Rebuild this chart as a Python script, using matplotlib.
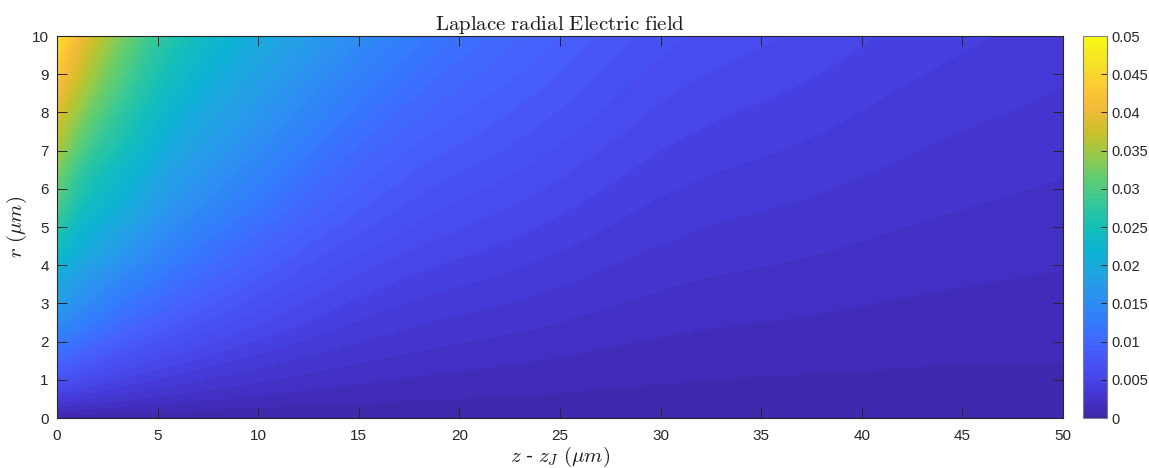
import numpy as np
import matplotlib
matplotlib.use("Agg")
import matplotlib.pyplot as plt
import matplotlib.tri as mtri
from matplotlib.colors import LinearSegmentedColormap, Normalize
from matplotlib.cm import ScalarMappable

# parula-like colour table (every 16th entry)
parula_pts = [
    (0.2422, 0.1504, 0.6603), (0.2704, 0.2138, 0.8346), (0.2813, 0.2985, 0.9397),
    (0.2710, 0.3860, 0.9898), (0.2006, 0.4803, 0.9906), (0.1716, 0.5655, 0.9393),
    (0.1288, 0.6408, 0.8910), (0.0433, 0.7039, 0.8242), (0.0770, 0.7468, 0.7224),
    (0.2061, 0.7808, 0.6065), (0.3671, 0.8021, 0.4563), (0.5886, 0.7913, 0.2833),
    (0.7945, 0.7554, 0.1570), (0.9523, 0.7284, 0.2237), (0.9938, 0.7974, 0.1974),
    (0.9601, 0.8963, 0.1507), (0.9769, 0.9839, 0.0805),
]
parula = LinearSegmentedColormap.from_list("parula", parula_pts, N=256)

# sample positions (um)
z_pts = [0, 1, 2.5, 5, 7.5, 10, 15, 20, 25, 30, 35, 40, 45, 50]
r_pts = [0, 0.5, 1, 2, 3, 4, 5, 6, 7, 8, 9, 10]

# radial field, one list per z position, in units of 1e-3 (r = 0 ... 10)
E_z0 = [0, 3.8, 7.0, 12.5, 17.5, 22.0, 27.0, 31.5, 35.5, 39.0, 42.5, 47.0]
E_z1 = [0, 3.4, 6.2, 11.2, 15.6, 19.6, 23.4, 27.2, 30.8, 34.4, 38.0, 41.5]
E_z2p5 = [0, 2.9, 5.2, 9.4, 13.2, 16.8, 20.2, 23.4, 26.5, 29.5, 32.4, 35.2]
E_z5 = [0, 2.2, 4.0, 7.3, 10.4, 13.3, 16.0, 18.6, 21.0, 23.4, 25.8, 28.0]
E_z7p5 = [0, 1.75, 3.2, 5.9, 8.4, 10.8, 13.1, 15.3, 17.4, 19.4, 21.4, 23.4]
E_z10 = [0, 1.4, 2.6, 4.8, 6.9, 8.9, 10.9, 12.9, 14.8, 16.6, 18.4, 20.2]
E_z15 = [0, 1.0, 1.8, 3.3, 4.7, 6.1, 7.6, 9.0, 10.4, 11.9, 13.4, 14.9]
E_z20 = [0, 0.8, 1.4, 2.5, 3.6, 4.7, 5.8, 6.9, 8.0, 9.1, 10.2, 11.3]
E_z25 = [0, 0.65, 1.12, 2.0, 2.88, 3.76, 4.64, 5.52, 6.4, 7.28, 8.16, 9.0]
E_z30 = [0, 0.53, 0.89, 1.56, 2.23, 2.90, 3.57, 4.24, 4.91, 5.58, 6.25, 6.92]
E_z35 = [0, 0.47, 0.77, 1.34, 1.91, 2.48, 3.05, 3.62, 4.19, 4.76, 5.33, 5.90]
E_z40 = [0, 0.45, 0.71, 1.19, 1.67, 2.15, 2.63, 3.11, 3.59, 4.07, 4.55, 5.03]
E_z45 = [0, 0.44, 0.67, 1.07, 1.47, 1.87, 2.27, 2.67, 3.07, 3.47, 3.87, 4.27]
E_z50 = [0, 0.42, 0.65, 1.00, 1.34, 1.68, 2.02, 2.36, 2.70, 3.05, 3.39, 3.73]

E = np.array([E_z0, E_z1, E_z2p5, E_z5, E_z7p5, E_z10, E_z15, E_z20,
              E_z25, E_z30, E_z35, E_z40, E_z45, E_z50]).T * 1e-3
Z, R = np.meshgrid(z_pts, r_pts)

# smooth the filled contours on a refined triangulation
tri = mtri.Triangulation(Z.ravel(), R.ravel())
interp = mtri.CubicTriInterpolator(tri, E.ravel(), kind="min_E")
refiner = mtri.UniformTriRefiner(tri)
tri_f, E_f = refiner.refine_field(E.ravel(), triinterpolator=interp, subdiv=4)

plt.rcParams["mathtext.fontset"] = "cm"
plt.rcParams["font.family"] = ["Liberation Sans", "DejaVu Sans"]
tick_col = "#262626"

fig = plt.figure(figsize=(11.49, 4.68), dpi=100)
ax = fig.add_axes([0.0496, 0.1068, 0.8756, 0.8162])
cax = fig.add_axes([0.9426, 0.1068, 0.0209, 0.8162])

levels = np.linspace(0, 0.05, 62)
ax.tricontourf(tri_f, E_f, levels=levels, cmap=parula, vmin=0, vmax=0.05,
               extend="both")

ax.set_xlim(0, 50)
ax.set_ylim(0, 10)
ax.set_xticks(np.arange(0, 51, 5))
ax.set_yticks(np.arange(0, 11, 1))
ax.tick_params(direction="in", length=7, width=0.7, top=True, right=True,
               labelsize=11, colors=tick_col)
ax.tick_params(axis="x", pad=8)
ax.tick_params(axis="y", pad=6)
for s in ax.spines.values():
    s.set_linewidth(0.8)
    s.set_color(tick_col)

ax.set_title(r"$\mathrm{Laplace\ radial\ Electric\ field}$", fontsize=15,
             color="#1a1a1a", pad=4)
ax.set_xlabel(r"$z$ - $z_J$ $(\mu m)$", fontsize=15, color="#1a1a1a", labelpad=1)
ax.set_ylabel(r"$r$ $(\mu m)$", fontsize=15, color="#1a1a1a", labelpad=2)

sm = ScalarMappable(norm=Normalize(0, 0.05), cmap=parula)
cb = fig.colorbar(sm, cax=cax, ticks=np.arange(0, 0.0501, 0.005))
cb.ax.set_yticklabels(["0", "0.005", "0.01", "0.015", "0.02", "0.025",
                       "0.03", "0.035", "0.04", "0.045", "0.05"])
cb.ax.tick_params(direction="in", length=4, width=0.7, labelsize=10.5,
                  colors=tick_col, pad=3)
cb.outline.set_linewidth(0.8)
cb.outline.set_edgecolor("#7f7f7f")

fig.savefig("out.png", dpi=100)
